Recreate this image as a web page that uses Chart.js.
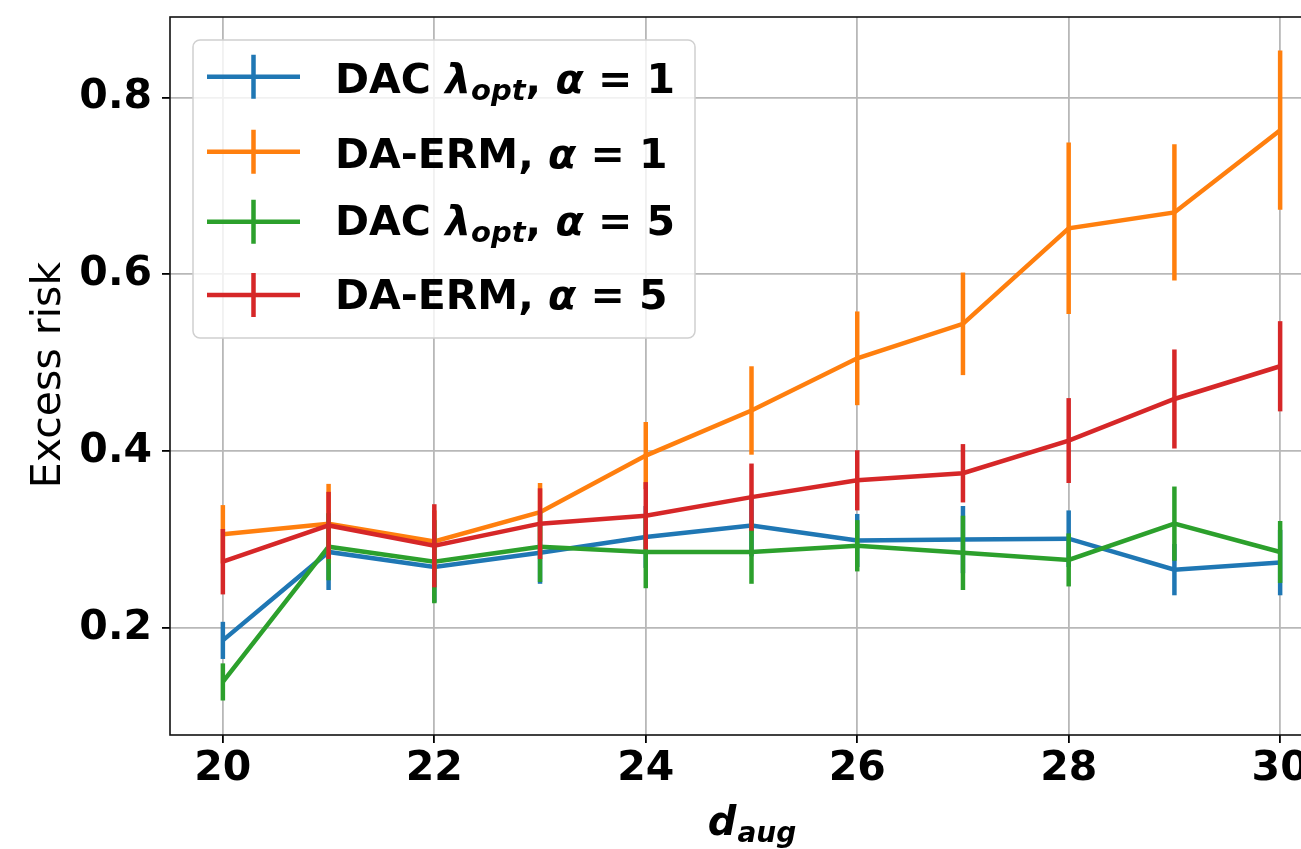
<!DOCTYPE html>
<html>
<head>
<meta charset="utf-8">
<script src="https://cdn.jsdelivr.net/npm/chart.js@4.4.0/dist/chart.umd.min.js"></script>
<style>
  html, body { margin: 0; padding: 0; background: #fff; overflow: hidden; }
  #wrap { width: 1301px; height: 849px; overflow: hidden; }
  canvas { display: block; }
</style>
</head>
<body>
<div id="wrap"><canvas id="chart" width="1340" height="849"></canvas></div>
<script>
// d_aug values
const dAug = [20, 21, 22, 23, 24, 25, 26, 27, 28, 29, 30];

// DAC lambda_opt, alpha = 1
const dacA1 = [0.186, 0.286, 0.269, 0.285, 0.303, 0.316, 0.299, 0.300, 0.301, 0.266, 0.274];
const dacA1Err = [0.021, 0.043, 0.040, 0.035, 0.035, 0.035, 0.030, 0.038, 0.032, 0.029, 0.037];
// DA-ERM, alpha = 1
const ermA1 = [0.306, 0.318, 0.298, 0.331, 0.395, 0.446, 0.505, 0.544, 0.652, 0.670, 0.763];
const ermA1Err = [0.033, 0.045, 0.035, 0.033, 0.038, 0.050, 0.053, 0.058, 0.097, 0.077, 0.090];
// DAC lambda_opt, alpha = 5
const dacA5 = [0.139, 0.292, 0.275, 0.292, 0.286, 0.286, 0.293, 0.285, 0.277, 0.318, 0.286];
const dacA5Err = [0.021, 0.038, 0.047, 0.040, 0.041, 0.036, 0.029, 0.042, 0.030, 0.042, 0.035];
// DA-ERM, alpha = 5
const ermA5 = [0.275, 0.316, 0.293, 0.318, 0.327, 0.348, 0.367, 0.375, 0.412, 0.459, 0.496];
const ermA5Err = [0.037, 0.038, 0.047, 0.040, 0.038, 0.038, 0.034, 0.033, 0.048, 0.056, 0.051];

const xTicks = [20, 22, 24, 26, 28, 30];
const yTicks = [0.2, 0.4, 0.6, 0.8];

// legend text pieces: [text, style] where b = bold, bi = bold italic, sub = subscript
const legendLabels = [
  [['DAC ', 'b'], ['λ', 'bi'], ['opt', 'sub'], [', ', 'b'], ['α', 'bi'], [' = 1', 'b']],
  [['DA-ERM, ', 'b'], ['α', 'bi'], [' = 1', 'b']],
  [['DAC ', 'b'], ['λ', 'bi'], ['opt', 'sub'], [', ', 'b'], ['α', 'bi'], [' = 5', 'b']],
  [['DA-ERM, ', 'b'], ['α', 'bi'], [' = 5', 'b']]
];

const colors = ['#1f77b4', '#ff7f0e', '#2ca02c', '#d62728'];
const means = [dacA1, ermA1, dacA5, ermA5];
const errs = [dacA1Err, ermA1Err, dacA5Err, ermA5Err];

const FONT = '"DejaVu Sans"';
const LW = 4.5;

function toPoints(ys) {
  return dAug.map((x, i) => ({ x: x, y: ys[i] }));
}

const datasets = means.map((m, i) => ({
  label: 'series' + i,
  data: toPoints(m),
  borderColor: colors[i],
  backgroundColor: colors[i],
  borderWidth: LW,
  pointRadius: 0,
  tension: 0,
  order: 4 - i
}));

// draw the vertical error bars right after each line, like matplotlib
const errorBars = {
  id: 'errorBars',
  afterDatasetDraw(chart, args) {
    const i = args.index;
    const xs = chart.scales.x, ys = chart.scales.y;
    const ctx = chart.ctx;
    const a = chart.chartArea;
    ctx.save();
    ctx.beginPath();
    ctx.rect(a.left, a.top, a.right - a.left, a.bottom - a.top);
    ctx.clip();
    ctx.strokeStyle = colors[i];
    ctx.lineWidth = LW;
    ctx.lineCap = 'butt';
    dAug.forEach((x, k) => {
      const px = xs.getPixelForValue(x);
      ctx.beginPath();
      ctx.moveTo(px, ys.getPixelForValue(means[i][k] - errs[i][k]));
      ctx.lineTo(px, ys.getPixelForValue(means[i][k] + errs[i][k]));
      ctx.stroke();
    });
    ctx.restore();
  }
};

function drawParts(ctx, parts, x, y, size) {
  parts.forEach(([t, s]) => {
    let f, dy = 0;
    if (s === 'b') f = 'bold ' + size + 'px ' + FONT;
    else if (s === 'bi') f = 'italic bold ' + size + 'px ' + FONT;
    else { f = 'italic bold ' + Math.round(size * 0.7) + 'px ' + FONT; dy = size * 0.17; }
    ctx.font = f;
    ctx.fillText(t, x, y + dy);
    x += ctx.measureText(t).width;
  });
}

const decorations = {
  id: 'decorations',
  afterDatasetsDraw(chart) {
    const ctx = chart.ctx, a = chart.chartArea;
    ctx.save();
    ctx.strokeStyle = '#111';
    ctx.lineWidth = 1.6;
    ctx.strokeRect(a.left, a.top, a.right - a.left, a.bottom - a.top);
    ctx.restore();
  },
  afterDraw(chart) {
    const ctx = chart.ctx, a = chart.chartArea;
    ctx.save();
    // legend box
    const bx = 193, by = 40, bw = 502, bh = 298, r = 7;
    ctx.beginPath();
    ctx.moveTo(bx + r, by);
    ctx.arcTo(bx + bw, by, bx + bw, by + bh, r);
    ctx.arcTo(bx + bw, by + bh, bx, by + bh, r);
    ctx.arcTo(bx, by + bh, bx, by, r);
    ctx.arcTo(bx, by, bx + bw, by, r);
    ctx.closePath();
    ctx.fillStyle = 'rgba(255,255,255,0.8)';
    ctx.fill();
    ctx.strokeStyle = '#d0d0d0';
    ctx.lineWidth = 1.5;
    ctx.stroke();

    const rowCenters = [76.7, 151.7, 221.7, 295];
    const baselines = [93, 168, 235, 309];
    ctx.fillStyle = '#000';
    ctx.textBaseline = 'alphabetic';
    ctx.textAlign = 'left';
    legendLabels.forEach((parts, i) => {
      const cy = rowCenters[i];
      ctx.strokeStyle = colors[i];
      ctx.lineWidth = LW;
      ctx.lineCap = 'butt';
      ctx.beginPath();
      ctx.moveTo(207, cy); ctx.lineTo(300, cy);
      ctx.moveTo(253.5, cy - 22); ctx.lineTo(253.5, cy + 22);
      ctx.stroke();
      drawParts(ctx, parts, 335, baselines[i], 41);
    });

    // axis titles
    ctx.fillStyle = '#000';
    ctx.save();
    ctx.translate(60, 375);
    ctx.rotate(-Math.PI / 2);
    ctx.textAlign = 'center';
    ctx.font = '41px ' + FONT;
    ctx.fillText('Excess risk', 0, 0);
    ctx.restore();

    ctx.textAlign = 'left';
    ctx.font = 'italic bold 40px ' + FONT;
    const wd = ctx.measureText('d').width;
    ctx.font = 'italic bold 28px ' + FONT;
    const ws = ctx.measureText('aug').width;
    const cx = (a.left + a.right) / 2;
    const x0 = cx - (wd + ws) / 2;
    ctx.font = 'italic bold 40px ' + FONT;
    ctx.fillText('d', x0, 835);
    ctx.font = 'italic bold 28px ' + FONT;
    ctx.fillText('aug', x0 + wd + 1, 842);
    ctx.restore();
  }
};

Chart.defaults.font.family = FONT;
Chart.defaults.color = '#000';

new Chart(document.getElementById('chart'), {
  type: 'line',
  data: { datasets: datasets },
  options: {
    responsive: false,
    devicePixelRatio: 1,
    animation: false,
    layout: { padding: { top: 17, right: 7, left: 0, bottom: 0 } },
    plugins: { legend: { display: false }, tooltip: { enabled: false } },
    scales: {
      x: {
        type: 'linear',
        min: 19.5,
        max: 30.5,
        afterBuildTicks: s => { s.ticks = xTicks.map(v => ({ value: v })); },
        afterFit: s => { s.height = 114; s.paddingLeft = 0; s.paddingRight = 0; },
        border: { display: false },
        grid: { color: '#b8b8b8', lineWidth: 1.8, tickColor: '#000', tickLength: 8 },
        ticks: {
          font: { size: 41, weight: 'bold' },
          padding: 2,
          maxRotation: 0,
          callback: v => String(v)
        }
      },
      y: {
        min: 0.079,
        max: 0.891,
        afterBuildTicks: s => { s.ticks = yTicks.map(v => ({ value: v })); },
        afterFit: s => { s.width = 170; s.paddingTop = 0; s.paddingBottom = 0; },
        border: { display: false },
        grid: { color: '#b8b8b8', lineWidth: 1.8, tickColor: '#000', tickLength: 8 },
        ticks: {
          font: { size: 41, weight: 'bold' },
          padding: 10,
          callback: v => v.toFixed(1)
        }
      }
    }
  },
  plugins: [errorBars, decorations]
});
</script>
</body>
</html>
